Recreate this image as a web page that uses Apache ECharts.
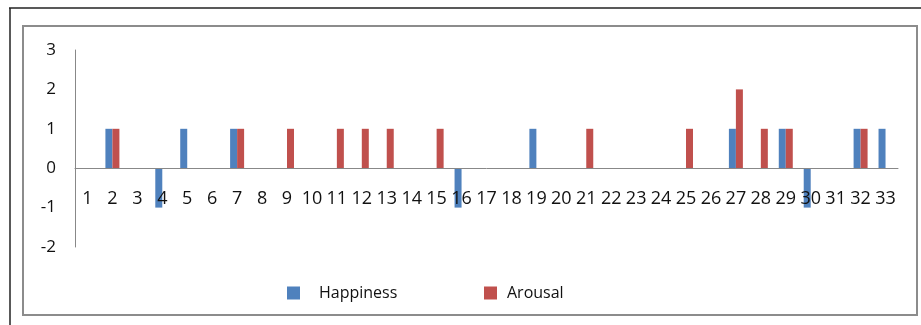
<!DOCTYPE html>
<html>
<head>
<meta charset="utf-8">
<script src="https://cdn.jsdelivr.net/npm/echarts@6/dist/echarts.min.js"></script>
<style>
  html, body { margin: 0; padding: 0; background: #fff; }
  #app { width: 921px; height: 325px; }
</style>
</head>
<body>
<div id="app"></div>
<script>
// subjects 1..33
const categories = ["1", "2", "3", "4", "5", "6", "7", "8", "9", "10", "11",
  "12", "13", "14", "15", "16", "17", "18", "19", "20", "21", "22",
  "23", "24", "25", "26", "27", "28", "29", "30", "31", "32", "33"];

const happiness = [0, 1, 0, -1, 1, 0, 1, 0, 0, 0, 0,
  0, 0, 0, 0, -1, 0, 0, 1, 0, 0, 0,
  0, 0, 0, 0, 1, 0, 1, -1, 0, 1, 1];

const arousal = [0, 1, 0, 0, 0, 0, 1, 0, 1, 0, 1,
  1, 1, 0, 1, 0, 0, 0, 0, 0, 1, 0,
  0, 0, 1, 0, 2, 1, 1, 0, 0, 1, 0];

const yTicks = [-2, -1, 0, 1, 2, 3];

const chart = echarts.init(document.getElementById("app"));
const font = "'Open Sans', sans-serif";

chart.setOption({
  animation: false,
  backgroundColor: "#fff",
  graphic: [
    // outer frame (only top & left visible)
    { type: "line", shape: { x1: 9, y1: 8, x2: 921, y2: 8 }, style: { stroke: "#222", lineWidth: 1.5 } },
    { type: "line", shape: { x1: 10, y1: 8, x2: 10, y2: 325 }, style: { stroke: "#222", lineWidth: 1.5 } },
    // inner chart-area border
    { type: "rect", shape: { x: 23, y: 26, width: 894, height: 289 }, style: { fill: null, stroke: "#8c8c8c", lineWidth: 2 } }
  ],
  grid: { left: 75, right: 23, top: 50, bottom: 78 },
  legend: [
    {
      data: ["Happiness"],
      left: 287, top: 285, padding: 0,
      itemWidth: 13, itemHeight: 13,
      icon: "rect",
      textStyle: { fontFamily: font, fontSize: 16, color: "#111", padding: [0, 0, 0, 14] }
    },
    {
      data: ["Arousal"],
      left: 484, top: 285, padding: 0,
      itemWidth: 13, itemHeight: 13,
      icon: "rect",
      textStyle: { fontFamily: font, fontSize: 16, color: "#111", padding: [0, 0, 0, 5] }
    }
  ],
  xAxis: {
    type: "category",
    data: categories,
    z: 5, // labels drawn over the negative bars
    axisLine: { onZero: true, lineStyle: { color: "#888", width: 1 } },
    axisTick: { show: false },
    // labels sit just under the zero line, not at the grid bottom
    axisLabel: { interval: 0, margin: -57, fontFamily: font, fontSize: 18, color: "#111" },
    splitLine: { show: false }
  },
  yAxis: {
    type: "value",
    min: yTicks[0],
    max: yTicks[yTicks.length - 1],
    interval: 1,
    axisLine: { show: true, lineStyle: { color: "#888", width: 1 } },
    axisTick: { show: false },
    axisLabel: { margin: 19, fontFamily: font, fontSize: 17, color: "#111" },
    splitLine: { show: false }
  },
  series: [
    {
      name: "Happiness",
      type: "bar",
      data: happiness,
      barWidth: 7,
      barGap: "0%",
      itemStyle: { color: "#4F81BD" }
    },
    {
      name: "Arousal",
      type: "bar",
      data: arousal,
      barWidth: 7,
      barGap: "0%",
      itemStyle: { color: "#C0504D" }
    }
  ]
});
</script>
</body>
</html>
